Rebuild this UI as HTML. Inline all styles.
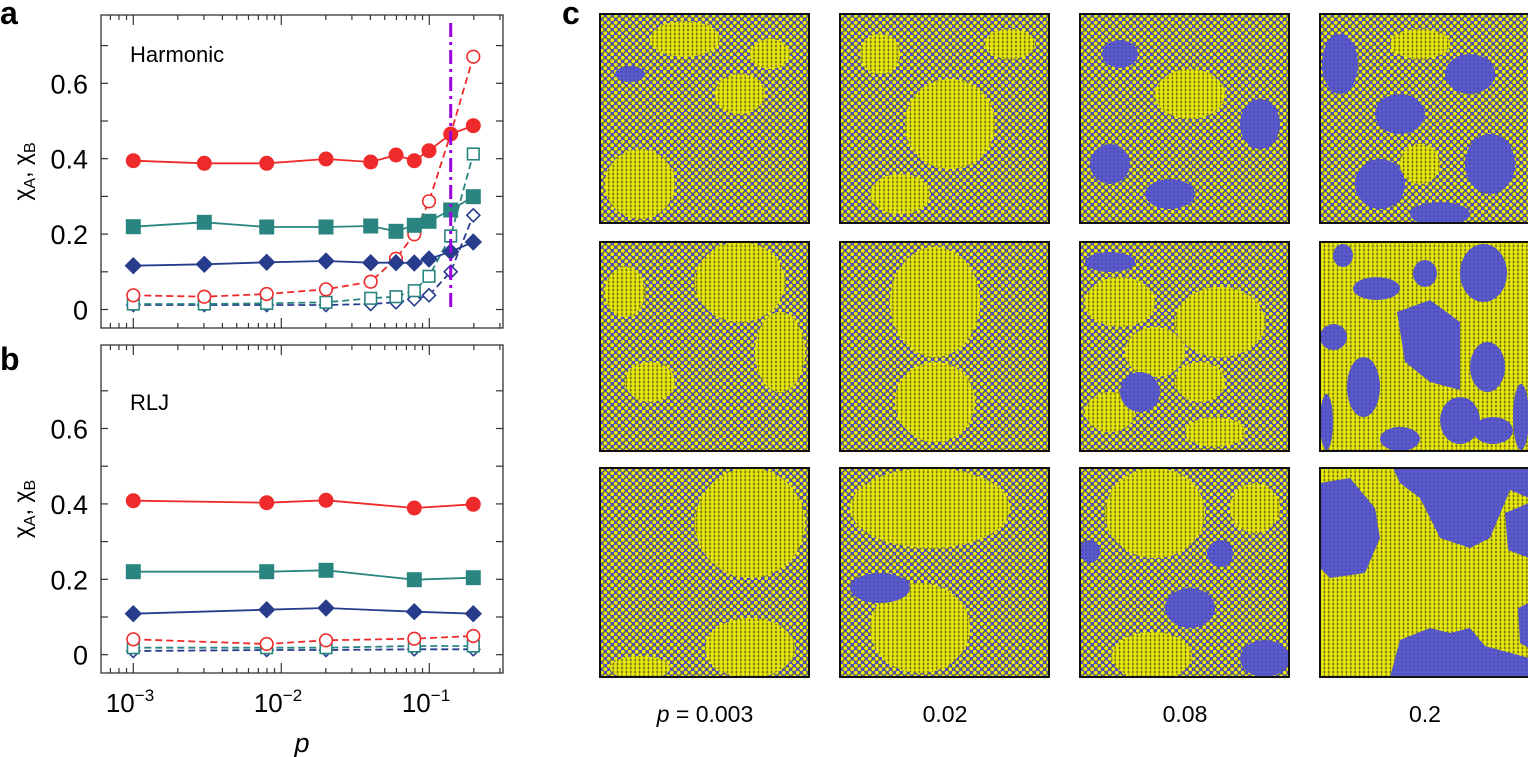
<!DOCTYPE html>
<html><head><meta charset="utf-8"><style>
html,body{margin:0;padding:0;background:#fff;width:1528px;height:757px;overflow:hidden}
svg text{font-family:"Liberation Sans",Arial,sans-serif}
</style></head><body>
<svg id="s" width="1528" height="757" viewBox="0 0 1528 757" xmlns="http://www.w3.org/2000/svg">
<defs>
<pattern id="mix" width="7" height="7" patternUnits="userSpaceOnUse">
<rect width="7" height="7" fill="#4f4fc0"/>
<circle cx="1.75" cy="1.75" r="2.2" fill="#ecec10" stroke="#3a3a20" stroke-width="0.4"/>
<circle cx="5.25" cy="5.25" r="2.2" fill="#ecec10" stroke="#3a3a20" stroke-width="0.4"/>
</pattern>
<pattern id="yel" width="4.4" height="4" patternUnits="userSpaceOnUse">
<rect width="4.4" height="4" fill="#6a6a20"/>
<circle cx="2.2" cy="2" r="2.0" fill="#eaea08"/>
</pattern>
<pattern id="blu" width="4" height="4" patternUnits="userSpaceOnUse">
<rect width="4" height="4" fill="#5a5acc"/>
<circle cx="2" cy="2" r="0.8" fill="#3c3c9c"/>
</pattern>
</defs>
<g id="imgs"></g>
<g id="plots"></g>
<text x="0" y="24" font-size="32" font-weight="bold">a</text>
<text x="0" y="370" font-size="32" font-weight="bold">b</text>
<text x="562" y="24" font-size="32" font-weight="bold">c</text>
<text x="130" y="62" font-size="22">Harmonic</text>
<text x="130" y="410" font-size="22">RLJ</text>
<text x="705" y="722" font-size="23" text-anchor="middle"><tspan font-style="italic">p</tspan> = 0.003</text>
<text x="945" y="722" font-size="23" text-anchor="middle">0.02</text>
<text x="1185" y="722" font-size="23" text-anchor="middle">0.08</text>
<text x="1425" y="722" font-size="23" text-anchor="middle">0.2</text>
<text x="302" y="752" font-size="27" font-style="italic" text-anchor="middle">p</text>
</svg>
<script>
const NS="http://www.w3.org/2000/svg";
function el(p,tag,a,txt){const e=document.createElementNS(NS,tag);for(const k in a)e.setAttribute(k,a[k]);if(txt!==undefined)e.textContent=txt;p.appendChild(e);return e;}
const P=document.getElementById('plots');
const red="#ee2a2a",teal="#2a8580",navy="#283c8c";
function axes(top,bot,y0){
  el(P,'rect',{x:101,y:top,width:402,height:bot-top,fill:'none',stroke:'#333','stroke-width':1.3});
  for(let i=0;i<=7;i++){const y=y0-i*37.7;if(y<top+2)continue;
    el(P,'line',{x1:101,y1:y,x2:108,y2:y,stroke:'#333','stroke-width':1.2});
    el(P,'line',{x1:496,y1:y,x2:503,y2:y,stroke:'#333','stroke-width':1.2});
    if(i%2==0)el(P,'text',{x:88,y:y+10,'font-size':27,'text-anchor':'end'},i==0?'0':(i/10).toFixed(1));}
  for(let d=-4;d<=0;d++)for(let m=1;m<10;m++){const x=133.3+148*(d+3+Math.log10(m));if(x<102||x>502)continue;
    const L=m==1?10:5;
    el(P,'line',{x1:x,y1:bot,x2:x,y2:bot-L,stroke:'#333','stroke-width':1.2});
    el(P,'line',{x1:x,y1:top,x2:x,y2:top+L,stroke:'#333','stroke-width':1.2});}
  const yl=(top+bot)/2;
  const t=el(P,'text',{x:0,y:0,'font-size':23,transform:`translate(30,${yl}) rotate(-90)`,'text-anchor':'middle','font-family':'"DejaVu Serif",serif'});
  t.innerHTML='χ<tspan font-size="16" dy="5" font-family="Liberation Sans">A</tspan><tspan dy="-5">, χ</tspan><tspan font-size="16" dy="5" font-family="Liberation Sans">B</tspan>';
}
axes(15,328,309.5);
axes(345,673,654.7);
// x tick labels
[[133,'−3'],[281,'−2'],[429,'−1']].forEach(([x,s])=>{const t=el(P,'text',{x:x-3,y:712,'font-size':26,'text-anchor':'middle'});t.innerHTML='10<tspan font-size="17" dy="-11">'+s+'</tspan>';});
function marker(type,x,y,c,open){
  const f=open?'#fff':c,sw=open?1.6:1;
  if(type=='c')el(P,'circle',{cx:x,cy:y,r:open?6.3:7,fill:f,stroke:c,'stroke-width':sw});
  if(type=='s'){const h=open?5.8:7;el(P,'rect',{x:x-h,y:y-h,width:2*h,height:2*h,fill:f,stroke:c,'stroke-width':sw});}
  if(type=='d'){const h=open?6.5:8;el(P,'polygon',{points:`${x},${y-h} ${x+h},${y} ${x},${y+h} ${x-h},${y}`,fill:f,stroke:c,'stroke-width':sw});}
}
function series(xs,ys,c,type,open){
  el(P,'polyline',{points:xs.map((x,i)=>x+','+ys[i]).join(' '),fill:'none',stroke:c,'stroke-width':1.8,'stroke-dasharray':open?'7,4':'none'});
  xs.forEach((x,i)=>marker(type,x,ys[i],c,open));
}
const xa=[133.3,204.3,266.7,326,370.7,396,414.3,429,450.7,473.3];
series(xa,[305,305,305,305,304,302.3,299.3,295.3,271.7,215.3],navy,'d',true);
series(xa,[304,304,303.3,302.3,298.3,296.7,290.7,276.3,236,154],teal,'s',true);
series(xa,[295.3,296.7,294,289.3,281.7,258.7,234.3,201.3,134,56.7],red,'c',true);
series(xa,[265.7,264.3,262.3,261,262.7,262.7,263,259,251.7,242],navy,'d',false);
series(xa,[226.7,222.3,227,227,226,231.3,225.3,221.3,210,196.7],teal,'s',false);
series(xa,[160.7,163.3,163.3,159,162,155,160.7,150.7,134,125.7],red,'c',false);
el(P,'line',{x1:450.7,y1:23,x2:450.7,y2:309,stroke:'#9a00e0','stroke-width':3,'stroke-dasharray':'14,5,3,5'});
const xb=[133.3,266.7,326,414.3,473.3];
series(xb,[651,650,650,649.3,649.3],navy,'d',true);
series(xb,[647.7,647.7,647.7,646,646],teal,'s',true);
series(xb,[639.3,644,640.3,638.7,636],red,'c',true);
series(xb,[613.7,609.7,608,611.7,613.7],navy,'d',false);
series(xb,[571.7,571.7,570.3,579.7,577.7],teal,'s',false);
series(xb,[500.7,502.7,500.3,508,504.3],red,'c',false);

// images
const G=document.getElementById('imgs');
const X=[600,840,1080,1320],Y=[14,242,468];
// each: base, list of [fill, shape]
const E=(cx,cy,rx,ry)=>['e',cx,cy,rx,ry],R=(x1,y1,x2,y2)=>['e',(x1+x2)/2,(y1+y2)/2,(x2-x1)/2,(y2-y1)/2],Pg=s=>['p',s];
const imgs=[
 ['mix',[['yel',E(85,25,35,18)],['yel',E(40,170,35,35)],['yel',E(140,80,25,20)],['yel',E(170,40,20,15)],['blu',E(30,60,15,8)]]],
 ['mix',[['yel',E(110,110,45,45)],['yel',E(40,40,20,20)],['yel',E(170,30,25,15)],['yel',E(60,180,30,20)]]],
 ['mix',[['yel',E(110,80,35,25)],['blu',E(30,150,20,20)],['blu',E(180,110,20,25)],['blu',E(90,180,25,15)],['blu',E(40,40,18,14)]]],
 ['mix',[['yel',E(100,30,30,15)],['yel',E(100,150,20,20)],['blu',E(20,50,18,30)],['blu',E(80,100,25,20)],['blu',E(150,60,25,20)],['blu',E(60,170,25,25)],['blu',E(170,150,25,30)],['blu',E(120,200,30,12)]]],
 ['mix',[['yel',E(140,40,45,40)],['yel',E(25,50,20,25)],['yel',E(180,110,25,40)],['yel',E(50,140,25,20)]]],
 ['mix',[['yel',E(95,60,45,55)],['yel',E(95,160,40,40)]]],
 ['mix',[['yel',E(40,60,35,25)],['yel',E(75,110,30,25)],['yel',E(140,80,45,35)],['yel',E(120,140,25,20)],['yel',E(30,170,25,20)],['yel',E(135,190,30,15)],['blu',E(30,20,25,10)],['blu',E(60,150,20,20)]]],
 ['yel',[['blu',R(13,2,33,25)],['blu',R(33,35,80,58)],['blu',R(93,18,117,45)],['blu',R(140,2,187,60)],['blu',Pg('77,70 110,58 140,80 140,148 110,140 85,120')],['blu',R(0,82,27,108)],['blu',R(27,115,60,175)],['blu',R(0,152,13,208)],['blu',R(120,155,160,202)],['blu',R(150,100,185,150)],['blu',R(193,142,209,208)],['blu',R(153,175,193,202)],['blu',R(60,185,100,209)]]],
 ['mix',[['yel',E(150,55,55,55)],['yel',E(150,180,45,30)],['yel',E(40,200,30,12)]]],
 ['mix',[['yel',E(90,40,80,40)],['yel',E(80,160,50,45)],['blu',E(40,120,30,15)]]],
 ['mix',[['yel',E(75,45,50,45)],['yel',E(72,188,40,24)],['yel',E(175,40,25,25)],['blu',R(127,72,153,99)],['blu',R(0,72,20,95)],['blu',R(160,172,209,209)],['blu',E(110,140,25,20)]]],
 ['yel',[['blu',Pg('0,15 30,10 55,40 60,70 45,105 10,110 0,100')],['blu',Pg('73,0 209,0 209,30 190,22 170,70 150,80 120,70 100,30 80,15')],['blu',Pg('185,45 209,35 209,90 188,82')],['blu',Pg('70,209 80,172 110,160 130,165 150,160 165,178 209,190 209,209')],['blu',Pg('198,140 209,135 209,180 200,175')]]]
];
imgs.forEach((im,i)=>{
  const x=X[i%4],y=Y[Math.floor(i/4)];
  const g=el(G,'g',{transform:`translate(${x},${y})`});
  const cp=el(g,'clipPath',{id:'cp'+i});el(cp,'rect',{width:209,height:209});
  const gg=el(g,'g',{'clip-path':`url(#cp${i})`});
  el(gg,'rect',{width:209,height:209,fill:`url(#${im[0]})`});
  im[1].forEach(([f,s])=>{
    if(s[0]=='e')el(gg,'ellipse',{cx:s[1],cy:s[2],rx:s[3],ry:s[4],fill:`url(#${f})`});
    else el(gg,'polygon',{points:s[1],fill:`url(#${f})`});
  });
  el(g,'rect',{x:0,y:0,width:209,height:209,fill:'none',stroke:'#111','stroke-width':2});
});
</script>
</body></html>
